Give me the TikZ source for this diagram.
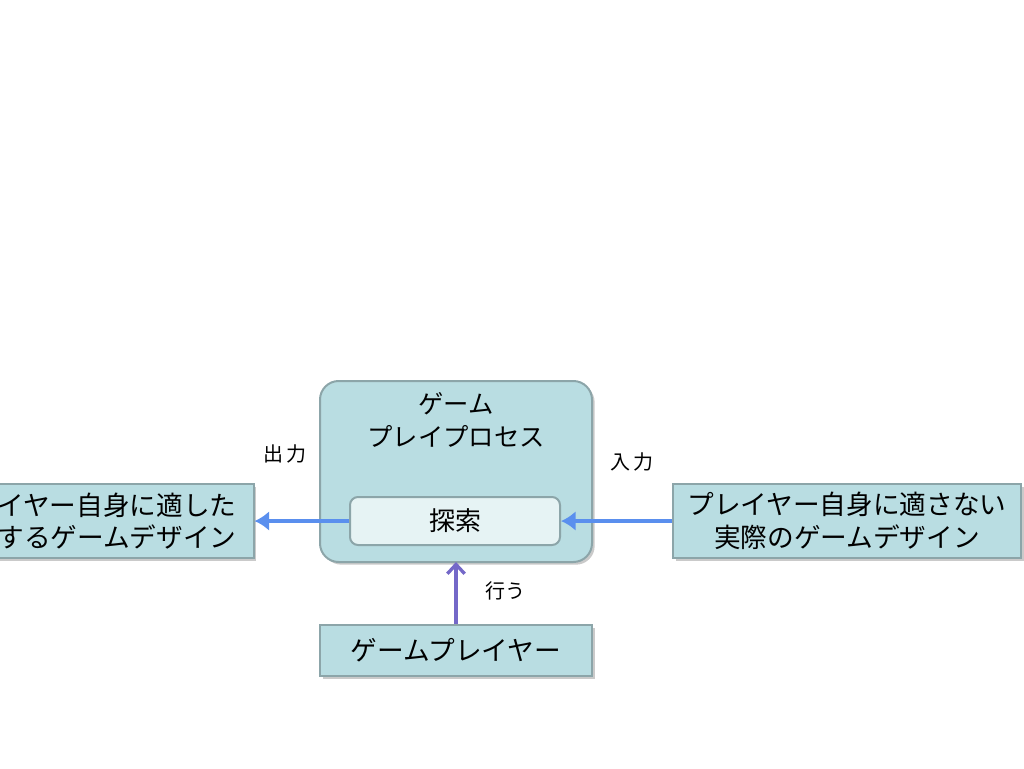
\documentclass[tikz,border=0pt]{standalone}
\usepackage{fontspec}
\setmainfont{Noto Sans CJK JP}
\usetikzlibrary{shadows,arrows.meta}

\definecolor{boxfill}{HTML}{B9DDE2}
\definecolor{boxline}{HTML}{8CA5A9}
\definecolor{innerfill}{HTML}{E6F3F4}
\definecolor{flowblue}{HTML}{5A8FEE}
\definecolor{doviolet}{HTML}{7468C8}

\tikzset{
  tealbox/.style={draw=boxline, line width=1.5pt, fill=boxfill,
    drop shadow={shadow xshift=2pt, shadow yshift=-2pt, opacity=0.35, fill=black!60}},
  flow/.style={draw=flowblue, line width=3.5pt, -{Latex[length=11pt,width=15pt]}},
  doit/.style={draw=doviolet, line width=2.5pt, -{Straight Barb[length=7pt,width=13pt]}},
  lbl/.style={font=\fontsize{15}{17}\selectfont}
}

\begin{document}
\begin{tikzpicture}[x=0.75pt,y=-0.75pt]
\useasboundingbox (0,0) rectangle (1024,768);

% process box
\draw[tealbox, rounded corners=14pt] (320,381) rectangle (592,562);
\node[align=center, font=\fontsize{19}{25}\selectfont] (title) at (456,420) {ゲーム\\プレイプロセス};
\node[draw=boxline, line width=1.5pt, fill=innerfill, rounded corners=6pt,
  minimum width=210*0.75pt, minimum height=48*0.75pt,
  font=\fontsize{19.5}{22}\selectfont] (search) at (455,521) {探索};
\coordinate (procbot) at (456,562);

% design boxes
\node[tealbox, minimum width=273*0.75pt, minimum height=74*0.75pt, align=center,
  font=\fontsize{20}{24.5}\selectfont] (ideal) at (117,521) {イヤー自身に適した\\するゲームデザイン};
\node[tealbox, minimum width=348*0.75pt, minimum height=74*0.75pt, align=center,
  font=\fontsize{20}{24.5}\selectfont] (actual) at (847,521) {プレイヤー自身に適さない\\実際のゲームデザイン};

% player
\node[tealbox, minimum width=272*0.75pt, minimum height=51*0.75pt,
  font=\fontsize{20}{22}\selectfont] (player) at (456,650.5) {ゲームプレイヤー};

% arrows
\draw[flow] (search.west) -- (ideal.east);
\draw[flow] (actual.west) -- (search.east);
\draw[doit] (player.north) -- (procbot);

\node[lbl] (out) at (285,454) {出\,力};
\node[lbl] (in) at (632,462) {入\,力};
\node[lbl] (do) at (505,591) {行う};
\end{tikzpicture}
\end{document}
